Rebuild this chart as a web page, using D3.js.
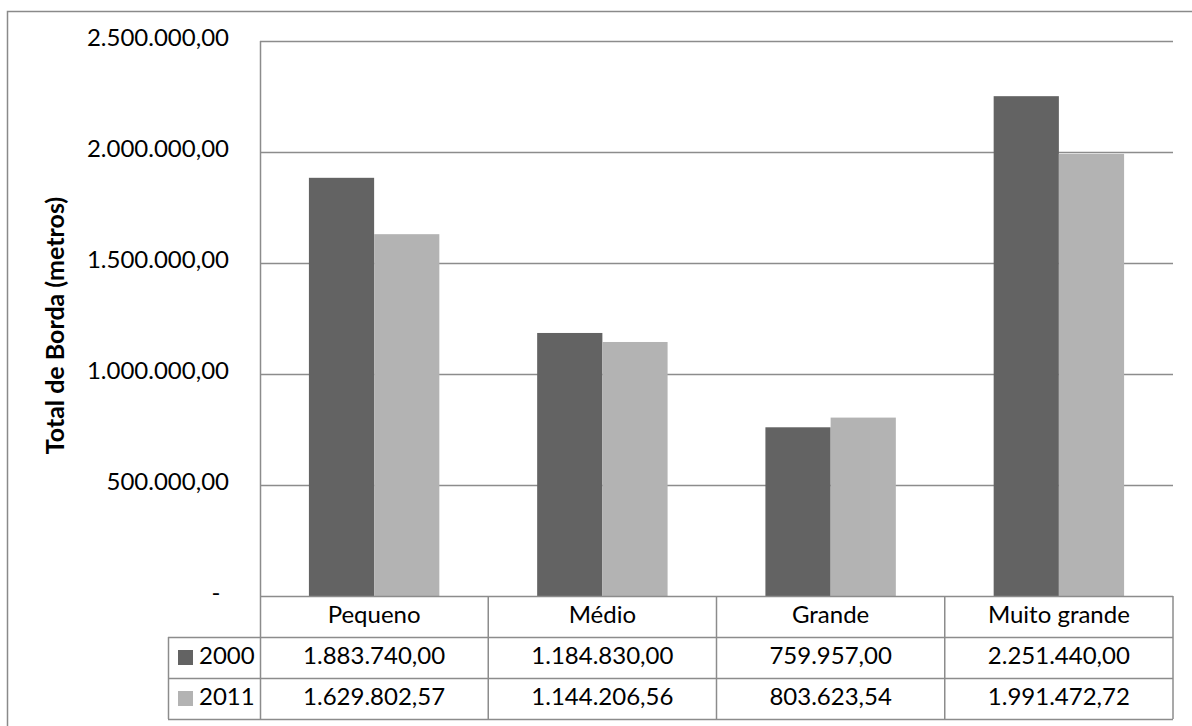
<!DOCTYPE html>
<html>
<head>
<meta charset="utf-8">
<script src="https://cdn.jsdelivr.net/npm/d3@7"></script>
<style>
  html, body { margin: 0; padding: 0; background: #fff; }
  svg { display: block; }
  text { font-family: Lato, "Open Sans", sans-serif; fill: #000; }
</style>
</head>
<body>
<svg id="chart" width="1192" height="726"></svg>
<script>
// Total edge length (metres) by patch size class
const categories = ["Pequeno", "Médio", "Grande", "Muito grande"];
const seriesNames = ["2000", "2011"];
const values2000 = [1883740.00, 1184830.00, 759957.00, 2251440.00];
const values2011 = [1629802.57, 1144206.56, 803623.54, 1991472.72];
const yTicks = [0, 500000, 1000000, 1500000, 2000000, 2500000];
const seriesColors = ["#636363", "#b3b3b3"];

const series = [values2000, values2011];

const ptBR = d3.formatLocale({ decimal: ",", thousands: ".", grouping: [3], currency: ["R$", ""] });
const fmt = ptBR.format(",.2f");

const svg = d3.select("#chart");
const W = 1192, H = 726;

const plot = { left: 260, right: 1173, top: 41, bottom: 596 };
const rowH = 41;
const tableLeft = 168;
const fontSize = 24;

const x = d3.scaleBand().domain(categories).range([plot.left, plot.right]);
// gap width of 150% between clusters: band = 2 bars + 1.5 bar
const barW = x.bandwidth() / 3.5;
const gap = (x.bandwidth() - 2 * barW) / 2;

const y = d3.scaleLinear().domain([0, 2500000]).range([plot.bottom, plot.top]);

// outer chart frame
svg.append("rect")
  .attr("x", 7.5).attr("y", 11.5)
  .attr("width", W + 10).attr("height", H + 10)
  .attr("fill", "none").attr("stroke", "#8a8a8a").attr("stroke-width", 1.5);

// horizontal gridlines
svg.append("g")
  .selectAll("line")
  .data(yTicks.filter(d => d > 0))
  .join("line")
  .attr("x1", plot.left).attr("x2", plot.right)
  .attr("y1", d => Math.round(y(d)) + 0.5).attr("y2", d => Math.round(y(d)) + 0.5)
  .attr("stroke", "#8c8c8c").attr("stroke-width", 1.5);

// y tick labels
svg.append("g")
  .selectAll("text")
  .data(yTicks)
  .join("text")
  .attr("x", d => d === 0 ? 216 : 229)
  .attr("y", d => y(d) - 1)
  .attr("text-anchor", d => d === 0 ? "middle" : "end")
  .attr("dominant-baseline", "middle")
  .attr("font-size", fontSize)
  .text(d => d === 0 ? "-" : fmt(d));

// bars
series.forEach((vals, si) => {
  svg.append("g")
    .selectAll("rect")
    .data(vals)
    .join("rect")
    .attr("x", (d, i) => x(categories[i]) + gap + si * barW)
    .attr("y", d => y(d))
    .attr("width", barW)
    .attr("height", d => y(0) - y(d))
    .attr("fill", seriesColors[si]);
});

// y axis title
svg.append("text")
  .attr("transform", `translate(64, ${(plot.top + plot.bottom) / 2 + 7}) rotate(-90)`)
  .attr("text-anchor", "middle")
  .attr("font-size", 25)
  .attr("font-weight", "bold")
  .text("Total de Borda (metros)");

// data table under the axis
const gridStroke = "#8c8c8c";
const tbl = svg.append("g").attr("stroke", gridStroke).attr("stroke-width", 1.5).attr("fill", "none");
const tableBottom = plot.bottom + 3 * rowH;

// vertical axis line through the table
tbl.append("line").attr("x1", plot.left + 0.5).attr("x2", plot.left + 0.5)
  .attr("y1", plot.top).attr("y2", tableBottom);
// baseline / category row top
tbl.append("line").attr("x1", plot.left).attr("x2", plot.right)
  .attr("y1", plot.bottom + 0.5).attr("y2", plot.bottom + 0.5);
// row separators
[1, 2, 3].forEach(r => {
  tbl.append("line")
    .attr("x1", tableLeft).attr("x2", plot.right)
    .attr("y1", plot.bottom + r * rowH + 0.5).attr("y2", plot.bottom + r * rowH + 0.5);
});
// column separators
categories.forEach(c => {
  const xr = x(c) + x.bandwidth();
  tbl.append("line").attr("x1", xr).attr("x2", xr)
    .attr("y1", plot.bottom).attr("y2", tableBottom);
});
// left legend column edge
tbl.append("line").attr("x1", tableLeft + 0.5).attr("x2", tableLeft + 0.5)
  .attr("y1", plot.bottom + rowH).attr("y2", tableBottom);

// category headers
svg.append("g")
  .selectAll("text")
  .data(categories)
  .join("text")
  .attr("x", d => x(d) + x.bandwidth() / 2)
  .attr("y", plot.bottom + rowH / 2)
  .attr("text-anchor", "middle")
  .attr("dominant-baseline", "middle")
  .attr("font-size", fontSize)
  .text(d => d);

// value rows with legend keys
series.forEach((vals, si) => {
  const cy = plot.bottom + (si + 1) * rowH + rowH / 2;
  const g = svg.append("g");
  g.append("rect")
    .attr("x", 178).attr("y", cy - 7.5)
    .attr("width", 15).attr("height", 15)
    .attr("fill", seriesColors[si]);
  g.append("text")
    .attr("x", 199).attr("y", cy)
    .attr("dominant-baseline", "middle")
    .attr("font-size", fontSize)
    .text(seriesNames[si]);
  g.selectAll("text.val")
    .data(vals)
    .join("text")
    .attr("class", "val")
    .attr("x", (d, i) => x(categories[i]) + x.bandwidth() / 2)
    .attr("y", cy)
    .attr("text-anchor", "middle")
    .attr("dominant-baseline", "middle")
    .attr("font-size", fontSize)
    .text(d => fmt(d));
});
</script>
</body>
</html>
